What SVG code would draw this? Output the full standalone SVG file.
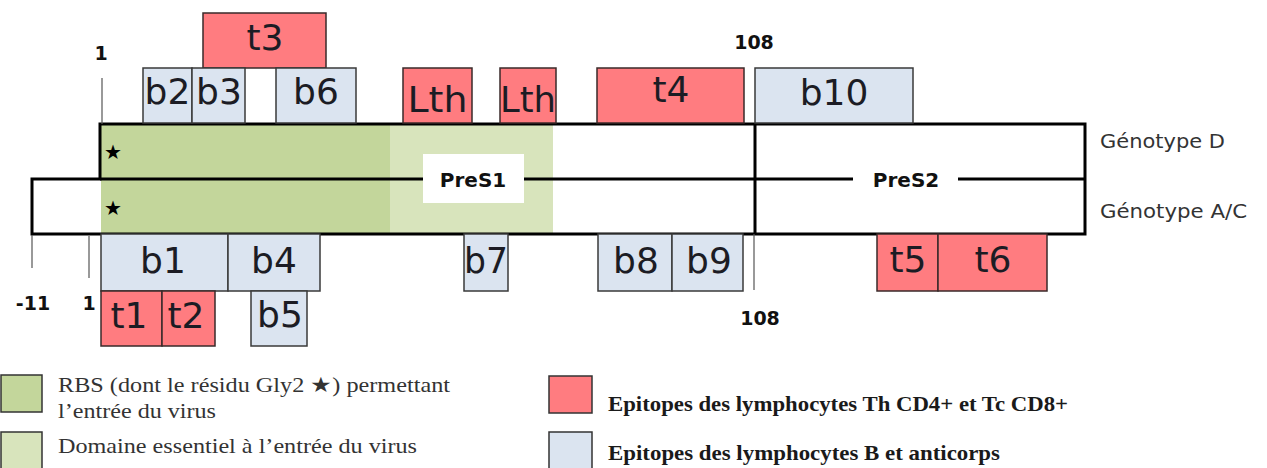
<svg xmlns="http://www.w3.org/2000/svg" width="1267" height="468" viewBox="0 0 1267 468">
<style>
.t{fill:#ff7c80;stroke:#3a2a2a;stroke-width:1.5}
.b{fill:#dbe4f0;stroke:#3a3a3a;stroke-width:1.5}
.lbl{font-family:"DejaVu Sans",sans-serif;font-size:36px;fill:#1c1c24;text-anchor:middle}
.num{font-family:"DejaVu Sans",sans-serif;font-weight:bold;font-size:19px;fill:#111;text-anchor:middle}
.pre{font-family:"DejaVu Sans",sans-serif;font-weight:bold;font-size:20px;fill:#111;text-anchor:middle}
.gen{font-family:"DejaVu Sans",sans-serif;font-size:20px;fill:#333}
.leg{font-family:"Liberation Serif",serif;font-size:21px;fill:#333}
.legb{font-family:"Liberation Serif",serif;font-size:21px;font-weight:bold;fill:#1a1a1a}
.star{font-family:"DejaVu Sans",sans-serif;font-size:20px;fill:#000;text-anchor:middle}
.tick{stroke:#555;stroke-width:1.2;fill:none}
.frame{stroke:#000;stroke-width:3;fill:none}
</style>

<g id="backbone">
  <rect x="101" y="124" width="289" height="110" fill="#c3d69b"/>
  <rect x="390" y="124" width="163" height="110" fill="#d8e4bc"/>
  <path d="M100,124 H1085 V234 H32 V179 H100 Z" class="frame"/>
  <path d="M100,179 H423 M524,179 H853 M958,179 H1085 M755,124 V234" class="frame"/>
  <rect x="423" y="154" width="101" height="49" fill="#fff"/>
  <text x="473" y="187" class="pre">PreS1</text>
  <text x="906" y="187" class="pre">PreS2</text>
  <text x="113" y="159" class="star">★</text>
  <text x="113" y="215" class="star">★</text>
  <text x="1100" y="148" class="gen" textLength="125" lengthAdjust="spacingAndGlyphs">Génotype D</text>
  <text x="1100" y="218" class="gen" textLength="147" lengthAdjust="spacingAndGlyphs">Génotype A/C</text>
</g>

<g id="connectors">
  <line x1="102" y1="78" x2="102" y2="124" class="tick"/>
  <line x1="32" y1="235" x2="32" y2="268" class="tick"/>
  <line x1="89" y1="236" x2="89" y2="278" class="tick"/>
  <line x1="754" y1="234" x2="754" y2="290" class="tick"/>
</g>

<g id="positions">
  <text x="101" y="60" class="num">1</text>
  <text x="754" y="49" class="num">108</text>
  <text x="33" y="310" class="num">-11</text>
  <text x="89" y="310" class="num">1</text>
  <text x="760" y="325" class="num">108</text>
</g>

<g id="t3"><rect x="203" y="13" width="123" height="55" class="t"/><text x="265" y="50" class="lbl">t3</text></g>
<g id="b2"><rect x="143" y="68" width="49" height="55" class="b"/><text x="167.5" y="104" class="lbl">b2</text></g>
<g id="b3"><rect x="192" y="68" width="53" height="55" class="b"/><text x="219" y="104" class="lbl">b3</text></g>
<g id="b6"><rect x="276" y="68" width="80" height="55" class="b"/><text x="316" y="104" class="lbl">b6</text></g>
<g id="lth1"><rect x="403" y="68" width="69" height="55" class="t"/><text x="437.5" y="112" class="lbl" textLength="60" lengthAdjust="spacingAndGlyphs">Lth</text></g>
<g id="lth2"><rect x="500" y="68" width="56" height="55" class="t"/><text x="528" y="112" class="lbl" textLength="56" lengthAdjust="spacingAndGlyphs">Lth</text></g>
<g id="t4"><rect x="597" y="68" width="147" height="55" class="t"/><text x="671" y="102" class="lbl">t4</text></g>
<g id="b10"><rect x="755" y="68" width="158" height="55" class="b"/><text x="834" y="105" class="lbl">b10</text></g>

<g id="b1"><rect x="101" y="234" width="127" height="57" class="b"/><text x="163" y="273" class="lbl">b1</text></g>
<g id="b4"><rect x="228" y="234" width="92" height="57" class="b"/><text x="274" y="273" class="lbl">b4</text></g>
<g id="t1"><rect x="101" y="291" width="61" height="55" class="t"/><text x="129" y="328" class="lbl">t1</text></g>
<g id="t2"><rect x="162" y="291" width="53" height="55" class="t"/><text x="186" y="328" class="lbl">t2</text></g>
<g id="b5"><rect x="251" y="291" width="56" height="55" class="b"/><text x="280" y="327" class="lbl">b5</text></g>
<g id="b7"><rect x="464" y="234" width="44" height="57" class="b"/><text x="486" y="273" class="lbl" textLength="44" lengthAdjust="spacingAndGlyphs">b7</text></g>
<g id="b8"><rect x="598" y="234" width="74" height="57" class="b"/><text x="636" y="273" class="lbl">b8</text></g>
<g id="b9"><rect x="672" y="234" width="71" height="57" class="b"/><text x="709" y="273" class="lbl">b9</text></g>
<g id="t5"><rect x="877" y="234" width="61" height="57" class="t"/><text x="908" y="272" class="lbl">t5</text></g>
<g id="t6"><rect x="938" y="234" width="109" height="57" class="t"/><text x="993" y="272" class="lbl">t6</text></g>

<g id="legend">
  <rect x="1" y="375" width="41" height="37" fill="#c3d69b" stroke="#333" stroke-width="1.5"/>
  <rect x="1" y="432" width="41" height="40" fill="#d8e4bc" stroke="#333" stroke-width="1.5"/>
  <rect x="549" y="376" width="43" height="37" fill="#ff7c80" stroke="#333" stroke-width="1.5"/>
  <rect x="549" y="432" width="43" height="40" fill="#dbe4f0" stroke="#333" stroke-width="1.5"/>
  <text x="58" y="392" class="leg" textLength="392" lengthAdjust="spacingAndGlyphs">RBS (dont le résidu Gly2 ★) permettant</text>
  <text x="58" y="418" class="leg" textLength="158" lengthAdjust="spacingAndGlyphs">l’entrée du virus</text>
  <text x="58" y="453" class="leg" textLength="359" lengthAdjust="spacingAndGlyphs">Domaine essentiel à l’entrée du virus</text>
  <text x="608" y="411" class="legb" textLength="460" lengthAdjust="spacingAndGlyphs">Epitopes des lymphocytes Th CD4+ et Tc CD8+</text>
  <text x="608" y="460" class="legb" textLength="392" lengthAdjust="spacingAndGlyphs">Epitopes des lymphocytes B et anticorps</text>
</g>
</svg>
